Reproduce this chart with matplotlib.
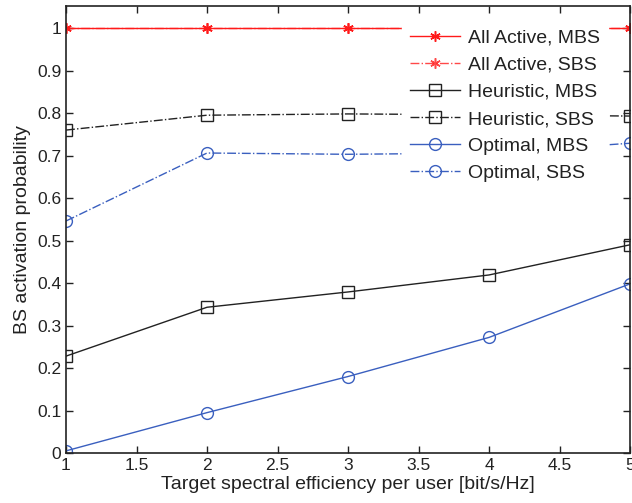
import matplotlib
matplotlib.use("Agg")
import matplotlib.pyplot as plt

plt.rcParams['font.family'] = ['Liberation Sans', 'DejaVu Sans']

x = [1, 2, 3, 4, 5]
all_active_mbs = [1, 1, 1, 1, 1]
all_active_sbs = [1, 1, 1, 1, 1]
heuristic_mbs = [0.228, 0.343, 0.379, 0.419, 0.490]
heuristic_sbs = [0.760, 0.795, 0.798, 0.796, 0.793]
optimal_mbs = [0.005, 0.095, 0.180, 0.272, 0.398]
optimal_sbs = [0.546, 0.706, 0.703, 0.706, 0.729]

xticks = [1, 1.5, 2, 2.5, 3, 3.5, 4, 4.5, 5]
yticks = [0, 0.1, 0.2, 0.3, 0.4, 0.5, 0.6, 0.7, 0.8, 0.9, 1]

red = '#ff1a1a'
blk = '#222222'
blu = '#3a5fbf'
ast = (6, 2, 0)

fig = plt.figure(figsize=(6.32, 5.03), dpi=100)
ax = fig.add_axes([66/632, 50/503, 564/632, 447/503])

ax.plot(x, all_active_mbs, '-', color=red, marker=ast, ms=7.5, mec=red, mew=1.1, lw=1.0, label='All Active, MBS')
ax.plot(x, all_active_sbs, '-.', color=red, marker=ast, ms=7.5, mec=red, mew=1.1, lw=1.0, label='All Active, SBS', alpha=0.8)
ax.plot(x, heuristic_mbs, '-', color=blk, marker='s', ms=8, mfc='none', mec=blk, mew=1.0, lw=1.0, label='Heuristic, MBS')
ax.plot(x, heuristic_sbs, '-.', color=blk, marker='s', ms=8, mfc='none', mec=blk, mew=1.0, lw=1.0, label='Heuristic, SBS')
ax.plot(x, optimal_mbs, '-', color=blu, marker='o', ms=8.5, mfc='none', mec=blu, mew=1.0, lw=1.0, label='Optimal, MBS')
ax.plot(x, optimal_sbs, '-.', color=blu, marker='o', ms=8.5, mfc='none', mec=blu, mew=1.0, lw=1.0, label='Optimal, SBS')

ax.set_xlim(1, 5)
ax.set_ylim(0, 1.052)
ax.set_xticks(xticks)
ax.set_xticklabels([f'{t:g}' for t in xticks])
ax.set_yticks(yticks)
ax.set_yticklabels([f'{t:g}' for t in yticks])
ax.tick_params(direction='in', length=5, labelsize=12.5, top=True, right=True, colors='#222222', width=1)
for s in ax.spines.values():
    s.set_color('#222222')
    s.set_linewidth(1.2)

ax.set_xlabel('Target spectral efficiency per user [bit/s/Hz]', fontsize=14, color='#222222', labelpad=2)
ax.set_ylabel('BS activation probability', fontsize=14, color='#222222', labelpad=4)

leg = ax.legend(loc='upper left', bbox_to_anchor=(0.596, 0.966), fontsize=14, frameon=True,
                fancybox=False, edgecolor='white', framealpha=1, handlelength=2.6,
                handletextpad=0.4, labelspacing=0.49, borderaxespad=0)
for t in leg.get_texts():
    t.set_color('#222222')

fig.savefig('out.png', dpi=100)
